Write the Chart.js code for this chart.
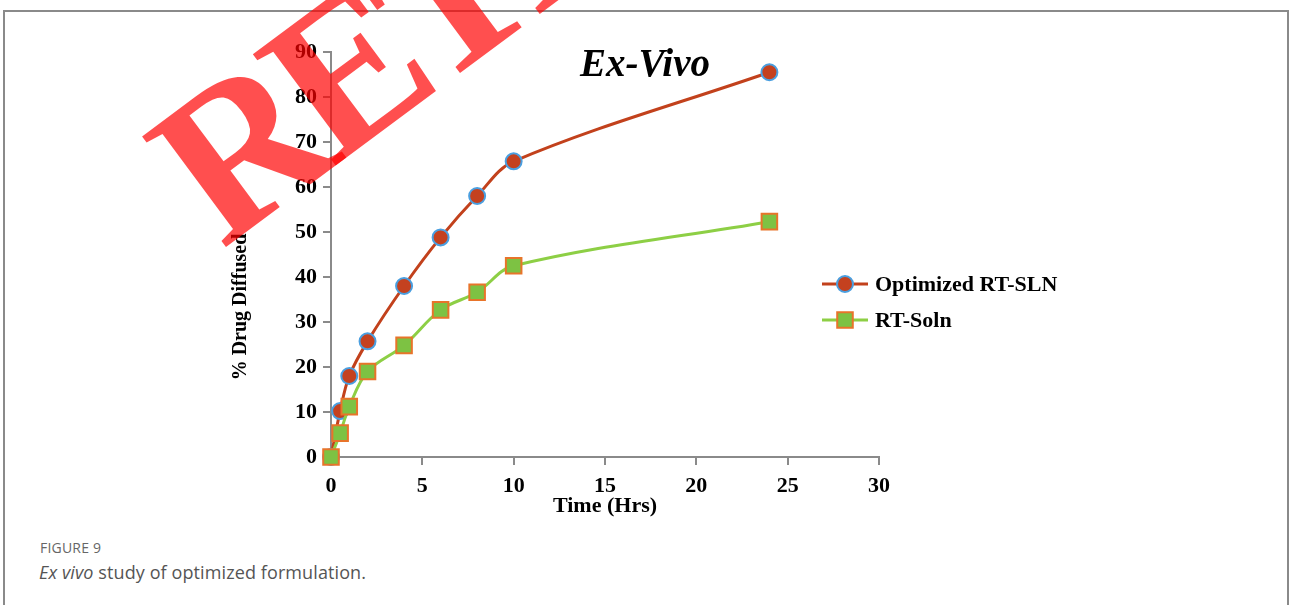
<!DOCTYPE html>
<html>
<head>
<meta charset="utf-8">
<script src="https://cdn.jsdelivr.net/npm/chart.js@4.4.1/dist/chart.umd.min.js"></script>
<style>
  html, body { margin: 0; padding: 0; background: #fff; width: 1290px; height: 605px; overflow: hidden; }
  #frame { position: absolute; left: 3px; top: 10px; width: 1282px; height: 700px; border: 2px solid #8a8a8a; }
  #c { position: absolute; left: 0; top: 0; }
  .cap1 { position: absolute; left: 40px; top: 538px; font-family: "Open Sans", sans-serif; font-size: 14px; color: #666; letter-spacing: 0.2px; }
  .cap2 { position: absolute; left: 39px; top: 560px; font-family: "Open Sans", sans-serif; font-size: 18px; color: #555; letter-spacing: 0.1px; }
</style>
</head>
<body>
<div id="frame"></div>
<div class="cap1">FIGURE 9</div>
<div class="cap2"><i>Ex vivo</i> study of optimized formulation.</div>
<canvas id="c" width="1290" height="605"></canvas>
<script>
// ---- data ----
const timeHrs = [0, 0.5, 1, 2, 4, 6, 8, 10, 24];
const slnValues = [0, 10.2, 18, 25.7, 38, 48.8, 58, 65.7, 85.5];
const solnValues = [0, 5.3, 11.2, 19, 24.8, 32.7, 36.6, 42.5, 52.3];
const seriesNames = ["Optimized RT-SLN", "RT-Soln"];
const chartTitle = "Ex-Vivo";
const xTitle = "Time (Hrs)";
const yTitle = "% Drug Diffused";
const watermark = "RETRACTED";

const pts = (xs, ys) => xs.map((x, i) => ({ x: x, y: ys[i] }));
const SERIF = "'Liberation Serif', 'Times New Roman', serif";

const extras = {
  id: 'extras',
  afterDatasetsDraw(chart) {
    const ctx = chart.ctx;
    ctx.save();
    // Title
    ctx.fillStyle = '#000';
    ctx.font = "italic bold 39px " + SERIF;
    ctx.textAlign = 'center';
    ctx.textBaseline = 'alphabetic';
    ctx.fillText(chartTitle, 645, 76);
    // Y axis title
    ctx.save();
    ctx.translate(241, 307);
    ctx.rotate(-Math.PI / 2);
    ctx.font = "bold 20px " + SERIF;
    ctx.textBaseline = 'middle';
    ctx.fillText(yTitle, 0, 0);
    ctx.restore();
    // Legend
    const ds = chart.data.datasets;
    const rows = [284, 320];
    ds.forEach((d, i) => {
      const y = rows[i];
      ctx.strokeStyle = d.borderColor;
      ctx.lineWidth = d.borderWidth;
      ctx.beginPath(); ctx.moveTo(822, y); ctx.lineTo(868, y); ctx.stroke();
      ctx.fillStyle = d.pointBackgroundColor;
      ctx.strokeStyle = d.pointBorderColor;
      ctx.lineWidth = d.pointBorderWidth;
      ctx.beginPath();
      if (d.pointStyle === 'circle') {
        ctx.arc(845, y, d.pointRadius, 0, Math.PI * 2);
      } else {
        const s = Math.SQRT1_2 * d.pointRadius;
        ctx.rect(845 - s, y - s, 2 * s, 2 * s);
      }
      ctx.fill(); ctx.stroke();
      ctx.fillStyle = '#000';
      ctx.font = "bold 22px " + SERIF;
      ctx.textAlign = 'left';
      ctx.textBaseline = 'middle';
      ctx.fillText(d.label, 875, y + 1);
    });
    ctx.restore();
  },
  afterDraw(chart) {
    const ctx = chart.ctx;
    ctx.save();
    ctx.translate(222, 250);
    ctx.rotate(-36.6 * Math.PI / 180);
    ctx.fillStyle = 'rgba(255,0,0,0.69)';
    ctx.font = "bold 212px " + SERIF;
    try { ctx.letterSpacing = '-15px'; } catch (e) {}
    ctx.textAlign = 'left';
    ctx.textBaseline = 'alphabetic';
    ctx.fillText(watermark, 0, 0);
    ctx.restore();
  }
};

new Chart(document.getElementById('c'), {
  type: 'line',
  data: {
    datasets: [
      {
        label: seriesNames[0],
        data: pts(timeHrs, slnValues),
        borderColor: '#C2411C',
        borderWidth: 3,
        pointStyle: 'circle',
        pointRadius: 8,
        pointBackgroundColor: '#C4411F',
        pointBorderColor: '#4A9FE0',
        pointBorderWidth: 2,
        tension: 0.35,
        clip: false,
        order: 2
      },
      {
        label: seriesNames[1],
        data: pts(timeHrs, solnValues),
        borderColor: '#8DCF45',
        borderWidth: 3,
        pointStyle: 'rect',
        pointRadius: 11,
        pointBackgroundColor: '#7DC243',
        pointBorderColor: '#E8742A',
        pointBorderWidth: 2,
        tension: 0.35,
        clip: false,
        order: 1
      }
    ]
  },
  options: {
    responsive: false,
    animation: false,
    devicePixelRatio: 1,
    layout: { padding: { left: 225, right: 411, top: 52, bottom: 81 } },
    plugins: { legend: { display: false }, tooltip: { enabled: false }, title: { display: false } },
    scales: {
      x: {
        type: 'linear', min: 0, max: 30,
        afterFit: s => { s.height = 67; },
        ticks: { stepSize: 5, color: '#000', font: { family: SERIF, size: 22, weight: 'bold' }, padding: 8, maxRotation: 0 },
        grid: { drawOnChartArea: false, drawTicks: true, tickLength: 8, color: '#8a8a8a', lineWidth: 2 },
        border: { display: true, color: '#8a8a8a', width: 2 },
        title: { display: true, text: xTitle, color: '#000', font: { family: SERIF, size: 22, weight: 'bold' }, padding: { top: 0, bottom: 4 } }
      },
      y: {
        type: 'linear', min: 0, max: 90,
        afterFit: s => { s.width = 106; },
        ticks: { stepSize: 10, color: '#000', font: { family: SERIF, size: 22, weight: 'bold' }, padding: 6 },
        grid: { drawOnChartArea: false, drawTicks: true, tickLength: 8, color: '#8a8a8a', lineWidth: 2 },
        border: { display: true, color: '#8a8a8a', width: 2 }
      }
    }
  },
  plugins: [extras]
});
</script>
</body>
</html>
